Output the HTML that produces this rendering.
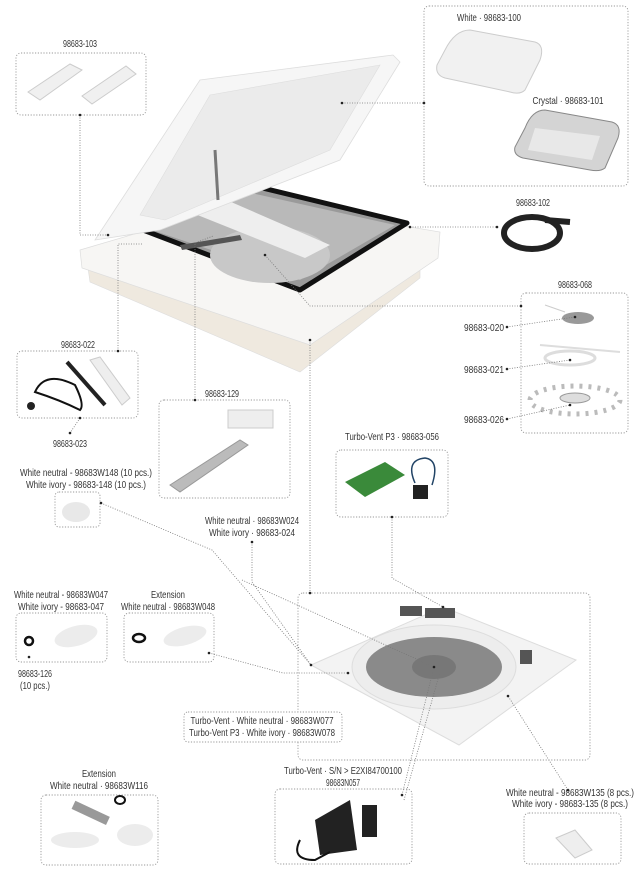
<!DOCTYPE html>
<html><head><meta charset="utf-8"><style>
html,body{margin:0;padding:0;background:#fff;}
svg{display:block;}
text{font-family:"Liberation Sans",sans-serif;font-size:10.5px;fill:#333;}
.b{fill:none;stroke:#999;stroke-width:0.9;stroke-dasharray:1.2 1.6;}
.l{fill:none;stroke:#777;stroke-width:0.8;stroke-dasharray:1 1.5;}
.d{fill:#222;}
</style></head><body>
<svg width="641" height="876" viewBox="0 0 641 876" xmlns="http://www.w3.org/2000/svg">
<!-- boxes -->
<rect class="b" x="16" y="53" width="130" height="62" rx="5"/>
<rect class="b" x="424" y="6" width="204" height="180" rx="5"/>
<rect class="b" x="521" y="293" width="107" height="140" rx="5"/>
<rect class="b" x="17" y="351" width="121" height="67" rx="5"/>
<rect class="b" x="159" y="400" width="131" height="98" rx="5"/>
<rect class="b" x="336" y="450" width="112" height="67" rx="5"/>
<rect class="b" x="55" y="492" width="45" height="35" rx="4"/>
<rect class="b" x="298" y="593" width="292" height="167" rx="5"/>
<rect class="b" x="16" y="613" width="91" height="49" rx="5"/>
<rect class="b" x="124" y="613" width="90" height="49" rx="5"/>
<rect class="b" x="41" y="795" width="117" height="70" rx="5"/>
<rect class="b" x="275" y="789" width="137" height="75" rx="5"/>
<rect class="b" x="524" y="813" width="97" height="51" rx="5"/>

<!-- main vent -->
<polygon points="88,268 300,330 420,265 420,278 300,372 90,282" fill="#efe9df" stroke="#ddd" stroke-width="0.6"/>
<polygon points="80,250 250,200 440,232 438,258 310,345 82,268" fill="#f7f6f4" stroke="#ddd" stroke-width="0.7"/>
<polygon points="130,225 217,177 407,223 300,290" fill="#9a9a9a" stroke="#111" stroke-width="5" stroke-linejoin="round"/>
<polygon points="140,226 220,186 395,225 300,280" fill="#b9b9b9"/>
<ellipse cx="270" cy="255" rx="60" ry="28" fill="#c8c8c8"/>
<polygon points="185,210 215,195 330,245 305,258" fill="#eee"/>
<polygon points="180,245 240,235 242,240 182,250" fill="#555"/>
<polygon points="95,240 200,80 393,55 400,62 340,160 160,230" fill="#f6f6f6" stroke="#ddd" stroke-width="0.8"/>
<polygon points="140,215 210,95 380,65 330,150 165,220" fill="#ebebeb" stroke="#ddd" stroke-width="0.6"/>
<line x1="215" y1="150" x2="218" y2="200" stroke="#777" stroke-width="3"/>

<!-- covers -->
<path d="M445,50 Q455,30 470,30 L535,42 Q545,45 540,60 L525,90 Q520,95 510,92 L445,78 Q435,75 437,65 Z" fill="#f1f1f1" stroke="#ccc"/>
<path d="M525,128 Q532,110 545,110 L612,122 Q622,125 618,138 L605,168 Q600,172 590,170 L523,158 Q513,155 515,147 Z" fill="#d4d4d4" stroke="#888"/>
<path d="M535,128 L600,136 L592,160 L528,150 Z" fill="#e8e8e8"/>
<!-- gasket -->
<ellipse cx="532" cy="233" rx="28" ry="16" fill="none" stroke="#222" stroke-width="6"/>
<line x1="545" y1="220" x2="570" y2="222" stroke="#222" stroke-width="6"/>
<!-- fan parts 068 -->
<ellipse cx="578" cy="318" rx="16" ry="6" fill="#999"/>
<line x1="545" y1="305" x2="565" y2="312" stroke="#ccc"/>
<ellipse cx="570" cy="358" rx="25" ry="7" fill="none" stroke="#ddd" stroke-width="3"/>
<line x1="540" y1="345" x2="620" y2="352" stroke="#ddd" stroke-width="2"/>
<ellipse cx="575" cy="400" rx="45" ry="14" fill="none" stroke="#bbb" stroke-width="5" stroke-dasharray="3 6"/>
<ellipse cx="575" cy="398" rx="15" ry="5" fill="#ddd" stroke="#999"/>
<!-- 103 clips -->
<polygon points="28,92 70,64 82,70 40,100" fill="#f0f0f0" stroke="#ccc"/>
<polygon points="82,96 126,66 136,74 92,104" fill="#f0f0f0" stroke="#ccc"/>
<!-- 022 -->
<path d="M35,392 Q45,370 75,385 Q85,405 80,410 Q60,400 35,392Z" fill="none" stroke="#111" stroke-width="2"/>
<line x1="67" y1="362" x2="105" y2="405" stroke="#222" stroke-width="4"/>
<polygon points="90,360 100,357 130,398 122,405" fill="#eee" stroke="#ccc"/>
<circle cx="31" cy="406" r="4" fill="#222"/>
<!-- 129 -->
<polygon points="170,485 240,440 248,445 180,492" fill="#bbb" stroke="#999"/>
<rect x="228" y="410" width="45" height="18" fill="#eee" stroke="#ccc"/>
<!-- P3 -->
<polygon points="345,482 385,462 405,475 365,497" fill="#3a8a3a"/>
<rect x="413" y="485" width="15" height="14" fill="#222"/>
<path d="M415,483 Q405,460 425,458 Q440,460 432,485" fill="none" stroke="#246" stroke-width="1.5"/>
<!-- W148 cap -->
<ellipse cx="76" cy="512" rx="14" ry="10" fill="#e8e8e8"/>
<!-- W047/W048 -->
<circle cx="29" cy="641" r="4" fill="none" stroke="#111" stroke-width="2.5"/>
<ellipse cx="76" cy="636" rx="22" ry="10" fill="#ececec" transform="rotate(-15 76 636)"/>
<ellipse cx="139" cy="638" rx="6" ry="4" fill="none" stroke="#111" stroke-width="2.5"/>
<ellipse cx="185" cy="636" rx="22" ry="9" fill="#ececec" transform="rotate(-15 185 636)"/>
<!-- fan plate -->
<polygon points="311,665 443,607 576,660 459,745" fill="#f3f3f3" stroke="#ddd"/>
<ellipse cx="434" cy="667" rx="82" ry="42" fill="#ededed" stroke="#ddd"/>
<ellipse cx="434" cy="667" rx="68" ry="30" fill="#8a8a8a"/>
<ellipse cx="434" cy="667" rx="22" ry="12" fill="#777"/>
<rect x="425" y="608" width="30" height="10" fill="#555"/>
<rect x="400" y="606" width="22" height="10" fill="#555"/>
<rect x="520" y="650" width="12" height="14" fill="#555"/>
<rect class="b" x="184" y="712" width="158" height="30" rx="4" style="fill:#fff"/>
<!-- W116 -->
<rect x="72" y="808" width="38" height="9" fill="#999" transform="rotate(25 90 812)"/>
<ellipse cx="120" cy="800" rx="5" ry="4" fill="none" stroke="#111" stroke-width="2"/>
<ellipse cx="75" cy="840" rx="24" ry="8" fill="#ececec"/>
<ellipse cx="135" cy="835" rx="18" ry="11" fill="#ececec"/>
<!-- N057 -->
<polygon points="315,820 350,800 357,850 320,855" fill="#222"/>
<rect x="362" y="805" width="15" height="32" fill="#222"/>
<path d="M300,840 Q290,860 315,860 L330,852" fill="none" stroke="#111" stroke-width="2"/>
<!-- W135 -->
<polygon points="556,838 575,830 592,850 575,858" fill="#eee" stroke="#ccc"/>

<!-- leaders -->
<polyline class="l" points="80,115 80,235 108,235"/>
<polyline class="l" points="342,103 424,103"/>
<polyline class="l" points="410,227 497,227"/>
<polyline class="l" points="265,255 310,306 521,306"/>
<polyline class="l" points="507,327 575,317"/>
<polyline class="l" points="507,369 570,360"/>
<polyline class="l" points="507,419 570,405"/>
<polyline class="l" points="118,351 118,244 142,244"/>
<polyline class="l" points="80,418 70,433"/>
<polyline class="l" points="195,400 195,243 213,236"/>
<polyline class="l" points="310,340 310,593"/>
<polyline class="l" points="392,517 392,578 443,607"/>
<polyline class="l" points="252,542 252,582 311,665"/>
<polyline class="l" points="101,503 212,550 311,665"/>
<polyline class="l" points="209,653 283,673 348,673"/>
<polyline class="l" points="242,580 434,667"/>
<polyline class="l" points="402,795 434,667"/>
<polyline class="l" points="404,800 440,672"/>
<polyline class="l" points="568,790 508,696"/>
<g class="d">
<circle cx="80" cy="115" r="1.3"/><circle cx="108" cy="235" r="1.3"/>
<circle cx="342" cy="103" r="1.3"/><circle cx="424" cy="103" r="1.3"/>
<circle cx="410" cy="227" r="1.3"/><circle cx="497" cy="227" r="1.3"/>
<circle cx="265" cy="255" r="1.3"/><circle cx="521" cy="306" r="1.3"/>
<circle cx="507" cy="327" r="1.3"/><circle cx="575" cy="317" r="1.3"/>
<circle cx="507" cy="369" r="1.3"/><circle cx="570" cy="360" r="1.3"/>
<circle cx="507" cy="419" r="1.3"/><circle cx="570" cy="405" r="1.3"/>
<circle cx="118" cy="351" r="1.3"/><circle cx="80" cy="418" r="1.3"/><circle cx="70" cy="433" r="1.3"/>
<circle cx="195" cy="400" r="1.3"/><circle cx="310" cy="340" r="1.3"/><circle cx="310" cy="593" r="1.3"/>
<circle cx="392" cy="517" r="1.3"/><circle cx="443" cy="607" r="1.3"/>
<circle cx="252" cy="542" r="1.3"/><circle cx="101" cy="503" r="1.3"/>
<circle cx="311" cy="665" r="1.3"/><circle cx="209" cy="653" r="1.3"/><circle cx="348" cy="673" r="1.3"/>
<circle cx="434" cy="667" r="1.3"/><circle cx="508" cy="696" r="1.3"/><circle cx="568" cy="790" r="1.3"/>
<circle cx="402" cy="795" r="1.3"/><circle cx="29" cy="657" r="1.3"/>
</g>

<!-- labels -->
<g text-anchor="middle">
<text x="80" y="47" textLength="34" lengthAdjust="spacingAndGlyphs">98683-103</text>
<text x="489" y="21" textLength="64" lengthAdjust="spacingAndGlyphs">White · 98683-100</text>
<text x="568" y="104" textLength="71" lengthAdjust="spacingAndGlyphs">Crystal · 98683-101</text>
<text x="533" y="206" textLength="34" lengthAdjust="spacingAndGlyphs">98683-102</text>
<text x="575" y="288" textLength="34" lengthAdjust="spacingAndGlyphs">98683-068</text>
<text x="78" y="348" textLength="34" lengthAdjust="spacingAndGlyphs">98683-022</text>
<text x="70" y="447" textLength="34" lengthAdjust="spacingAndGlyphs">98683-023</text>
<text x="222" y="397" textLength="34" lengthAdjust="spacingAndGlyphs">98683-129</text>
<text x="392" y="440" textLength="94" lengthAdjust="spacingAndGlyphs">Turbo-Vent P3 · 98683-056</text>
<text x="86" y="476" textLength="132" lengthAdjust="spacingAndGlyphs">White neutral - 98683W148 (10 pcs.)</text>
<text x="86" y="488" textLength="120" lengthAdjust="spacingAndGlyphs">White ivory - 98683-148 (10 pcs.)</text>
<text x="252" y="524" textLength="94" lengthAdjust="spacingAndGlyphs">White neutral · 98683W024</text>
<text x="252" y="536" textLength="86" lengthAdjust="spacingAndGlyphs">White ivory · 98683-024</text>
<text x="61" y="598" textLength="94" lengthAdjust="spacingAndGlyphs">White neutral - 98683W047</text>
<text x="61" y="610" textLength="86" lengthAdjust="spacingAndGlyphs">White ivory - 98683-047</text>
<text x="168" y="598" textLength="34" lengthAdjust="spacingAndGlyphs">Extension</text>
<text x="168" y="610" textLength="94" lengthAdjust="spacingAndGlyphs">White neutral · 98683W048</text>
<text x="35" y="677" textLength="34" lengthAdjust="spacingAndGlyphs">98683-126</text>
<text x="35" y="689" textLength="30" lengthAdjust="spacingAndGlyphs">(10 pcs.)</text>
<text x="262" y="724" textLength="143" lengthAdjust="spacingAndGlyphs">Turbo-Vent · White neutral · 98683W077</text>
<text x="262" y="736" textLength="146" lengthAdjust="spacingAndGlyphs">Turbo-Vent P3 · White ivory · 98683W078</text>
<text x="99" y="777" textLength="34" lengthAdjust="spacingAndGlyphs">Extension</text>
<text x="99" y="789" textLength="98" lengthAdjust="spacingAndGlyphs">White neutral ·  98683W116</text>
<text x="343" y="774" textLength="118" lengthAdjust="spacingAndGlyphs">Turbo-Vent · S/N &gt; E2XI84700100</text>
<text x="343" y="786" textLength="34" lengthAdjust="spacingAndGlyphs">98683N057</text>
<text x="570" y="796" textLength="128" lengthAdjust="spacingAndGlyphs">White neutral - 98683W135 (8 pcs.)</text>
<text x="570" y="807" textLength="116" lengthAdjust="spacingAndGlyphs">White ivory - 98683-135 (8 pcs.)</text>
</g>
<g text-anchor="end">
<text x="504" y="331" textLength="40" lengthAdjust="spacingAndGlyphs">98683-020</text>
<text x="504" y="373" textLength="40" lengthAdjust="spacingAndGlyphs">98683-021</text>
<text x="504" y="423" textLength="40" lengthAdjust="spacingAndGlyphs">98683-026</text>
</g>
</svg>
</body></html>
